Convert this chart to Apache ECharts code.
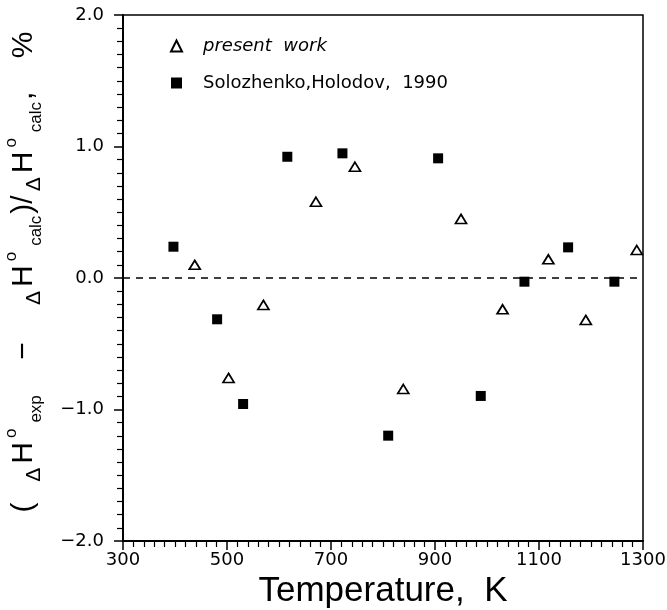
<!DOCTYPE html>
<html>
<head>
<meta charset="utf-8">
<script src="https://cdn.jsdelivr.net/npm/echarts@6/dist/echarts.min.js"></script>
<style>
  html, body { margin: 0; padding: 0; background: #fff; }
  #chart { width: 667px; height: 610px; }
</style>
</head>
<body>
<div id="chart"></div>
<script>
// temperatures (K) and relative deviation (%)
const presentT = [438, 503, 570, 671, 746, 839, 950, 1030, 1118, 1190, 1288];
const presentDev = [0.10, -0.76, -0.205, 0.58, 0.846, -0.844, 0.449, -0.238, 0.142, -0.319, 0.213];
const soloT = [397, 481, 531, 616, 722, 810, 906, 988, 1072, 1156, 1245];
const soloDev = [0.238, -0.314, -0.958, 0.922, 0.948, -1.199, 0.91, -0.897, -0.028, 0.233, -0.028];
const zeroLineT = [300, 1290];
const xTicks = [300, 500, 700, 900, 1100, 1300];
const yTicks = [-2, -1, 0, 1, 2];

const pair = (xs, ys) => xs.map((x, i) => [x, ys[i]]);

const chart = echarts.init(document.getElementById('chart'));
const font = 'Liberation Sans';
const labelFont = 'DejaVu Sans';

const yName = '{p|(  }{d|Δ}{h|H}{sup|o}{sub|exp}{p|    −    }{d|Δ}{h|H}{sup|o}{sub|calc}{p|)/}{d|Δ}{h|H}{sup|o}{sub|calc}{p|,    %}';

chart.setOption({
  animation: false,
  backgroundColor: '#fff',
  grid: {
    left: 123, right: 24, top: 15, bottom: 69,
    outerBoundsMode: 'none',
    containLabel: false,
    show: true, borderColor: '#000', borderWidth: 1.5
  },
  legend: {
    orient: 'vertical',
    left: 165, top: 32,
    itemWidth: 11, itemHeight: 11,
    itemGap: 19,
    data: ['present work', 'Solozhenko,Holodov, 1990'],
    formatter: name => name === 'present work' ? '{i|present  work}' : '{n|Solozhenko,Holodov,  1990}',
    textStyle: {
      fontFamily: labelFont, color: '#000',
      rich: {
        i: { fontSize: 18, lineHeight: 18, fontStyle: 'italic', fontFamily: labelFont, color: '#000', padding: [0, 0, 0, 16] },
        n: { fontSize: 18, lineHeight: 18, fontFamily: labelFont, color: '#000', padding: [0, 0, 0, 16] }
      }
    }
  },
  xAxis: {
    type: 'value',
    min: xTicks[0], max: xTicks[xTicks.length - 1], interval: 200,
    name: 'Temperature,  K',
    nameLocation: 'middle', nameGap: 26,
    nameTextStyle: { fontFamily: font, fontSize: 35, color: '#000' },
    axisLine: { show: true, onZero: false, lineStyle: { color: '#000', width: 2 } },
    axisTick: { show: true, length: 9, lineStyle: { color: '#000', width: 1.5 } },
    minorTick: { show: true, splitNumber: 10, length: 6, lineStyle: { color: '#000', width: 1.2 } },
    axisLabel: { fontFamily: labelFont, fontSize: 18, color: '#000', margin: 10, formatter: v => String(v) },
    splitLine: { show: false }
  },
  yAxis: {
    type: 'value',
    min: yTicks[0], max: yTicks[yTicks.length - 1], interval: 1,
    name: yName,
    nameLocation: 'middle', nameRotate: 90, nameGap: 78,
    nameTextStyle: {
      fontFamily: font, color: '#000',
      padding: [0, 0, 0, 12],
      rich: {
        p: { fontSize: 30, lineHeight: 42, fontFamily: font, color: '#000' },
        h: { fontSize: 30, lineHeight: 42, fontFamily: font, color: '#000', padding: [0, 2, 0, 3] },
        d: { fontSize: 21, lineHeight: 29, verticalAlign: 'bottom', fontFamily: font, color: '#000', padding: [0, 1, 0, 4] },
        sup: { fontSize: 17, lineHeight: 17, verticalAlign: 'top', fontFamily: font, color: '#000', padding: [0, 4, 0, 2] },
        sub: { fontSize: 17, lineHeight: 15, verticalAlign: 'bottom', fontFamily: font, color: '#000', padding: [0, 2, 0, 2] }
      }
    },
    axisLine: { show: true, lineStyle: { color: '#000', width: 2 } },
    axisTick: { show: true, length: 9, lineStyle: { color: '#000', width: 1.5 } },
    minorTick: { show: true, splitNumber: 10, length: 6, lineStyle: { color: '#000', width: 1.2 } },
    axisLabel: {
      fontFamily: labelFont, fontSize: 18, color: '#000', margin: 19,
      formatter: v => (v < 0 ? '−' : '') + Math.abs(v).toFixed(1)
    },
    splitLine: { show: false }
  },
  series: [
    {
      name: 'zero',
      type: 'line',
      data: pair(zeroLineT, [0, 0]),
      symbol: 'none',
      lineStyle: { color: '#000', width: 1.5, type: [7, 6] },
      z: 1
    },
    {
      name: 'present work',
      type: 'scatter',
      data: pair(presentT, presentDev),
      symbol: 'triangle',
      symbolSize: [11, 9],
      itemStyle: { color: '#fff', borderColor: '#000', borderWidth: 1.7, opacity: 1 },
      z: 3
    },
    {
      name: 'Solozhenko,Holodov, 1990',
      type: 'scatter',
      data: pair(soloT, soloDev),
      symbol: 'rect',
      symbolSize: 10,
      itemStyle: { color: '#000', opacity: 1 },
      z: 3
    }
  ]
});
</script>
</body>
</html>
